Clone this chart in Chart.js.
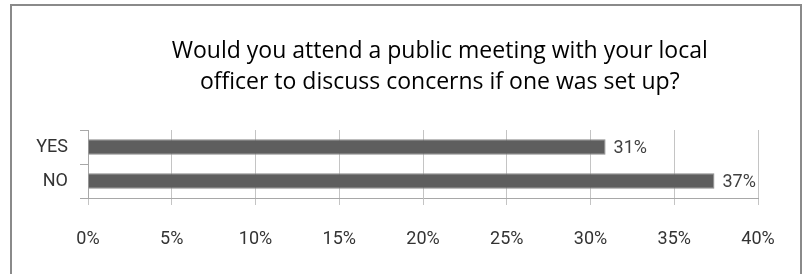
<!DOCTYPE html>
<html>
<head>
<meta charset="utf-8">
<script src="https://cdn.jsdelivr.net/npm/chart.js@4"></script>
<style>
  html, body { margin: 0; padding: 0; background: #fff; }
  #wrap { position: relative; width: 806px; height: 274px; overflow: hidden; }
  #frame {
    position: absolute; left: 10px; top: 4px; width: 788px; height: 290px;
    border: 2px solid #8a8a8a; box-sizing: content-box;
  }
  canvas { position: absolute; left: 0; top: 0; }
</style>
</head>
<body>
<div id="wrap">
  <div id="frame"></div>
  <canvas id="barChart" width="806" height="274"></canvas>
</div>
<script>
// Data
const categories = ["YES", "NO"];
const percentValues = [30.9, 37.4];
const valueLabels = ["31%", "37%"];
const tickLabels = ["0%", "5%", "10%", "15%", "20%", "25%", "30%", "35%", "40%"];
const titleLines = [
  "Would you attend a public meeting with your local",
  "officer to discuss concerns if one was set up?"
];

const FONT = "'Roboto', sans-serif";
const TITLE_FONT = "'Open Sans', sans-serif";

// title sits off-centre in the original, so it is drawn here instead of the title plugin
const offsetTitle = {
  id: "offsetTitle",
  afterDraw(chart) {
    const ctx = chart.ctx;
    const area = chart.chartArea;
    const cx = area.left + area.width * 0.525;
    ctx.save();
    ctx.font = "23px " + TITLE_FONT;
    ctx.fillStyle = "#000";
    ctx.textAlign = "center";
    ctx.textBaseline = "middle";
    titleLines.forEach((line, i) => {
      ctx.fillText(line, cx, 51 + i * 31);
    });
    ctx.restore();
  }
};

// draws the value text just right of each bar end
const barValueLabels = {
  id: "barValueLabels",
  afterDatasetsDraw(chart) {
    const ctx = chart.ctx;
    const meta = chart.getDatasetMeta(0);
    ctx.save();
    ctx.font = "18px " + FONT;
    ctx.fillStyle = "#404040";
    ctx.textAlign = "left";
    ctx.textBaseline = "middle";
    meta.data.forEach((bar, i) => {
      ctx.fillText(valueLabels[i], bar.x + 8, bar.y + 1);
    });
    ctx.restore();
  }
};

const ctx = document.getElementById("barChart").getContext("2d");

new Chart(ctx, {
  type: "bar",
  data: {
    labels: categories,
    datasets: [
      {
        data: percentValues,
        backgroundColor: "#5e5e5e",
        borderColor: "#8a8a8a",
        borderWidth: 1,
        barPercentage: 0.45,
        categoryPercentage: 1,
      },
    ],
  },
  options: {
    indexAxis: "y",
    responsive: false,
    animation: false,
    layout: {
      padding: { left: 12, right: 48, top: 130, bottom: 16 },
    },
    plugins: {
      legend: { display: false },
      tooltip: { enabled: false },
      title: { display: false },
    },
    scales: {
      x: {
        min: 0,
        max: 40,
        afterFit: (scale) => { scale.height = 60; },
        ticks: {
          stepSize: 5,
          color: "#333",
          font: { family: FONT, size: 18 },
          padding: 24,
          callback: (v, i) => tickLabels[i],
        },
        grid: {
          color: "#c4c4c4",
          tickLength: 7,
        },
        border: { color: "#a8a8a8" },
      },
      y: {
        afterFit: (scale) => { scale.width = 76; },
        ticks: {
          color: "#333",
          font: { family: FONT, size: 18 },
          padding: 12,
        },
        grid: {
          drawOnChartArea: false,
          color: "#a8a8a8",
          tickLength: 8,
          offset: true,
        },
        border: { color: "#a8a8a8" },
      },
    },
  },
  plugins: [offsetTitle, barValueLabels],
});
</script>
</body>
</html>
